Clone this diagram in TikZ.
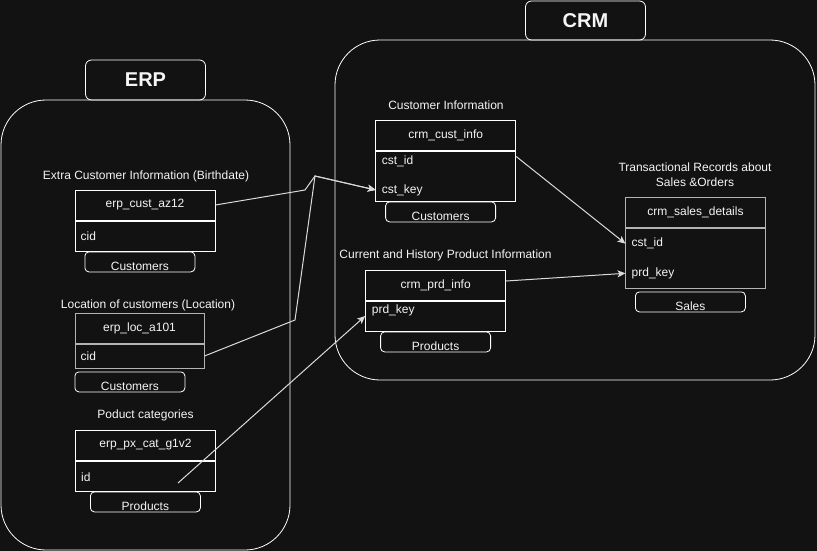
\documentclass[tikz,border=0pt]{standalone}
\usepackage{fontspec}
\setmainfont{Liberation Sans}
\usetikzlibrary{positioning,arrows.meta}
\definecolor{canvas}{HTML}{121212}
\definecolor{ink}{HTML}{F5F5F5}
\definecolor{dimline}{HTML}{B3B3B3}
\definecolor{wire}{HTML}{DADADA}

\begin{document}
\begin{tikzpicture}[x=1pt,y=-1pt,>={Stealth[length=8pt,width=7pt,inset=2pt]},
  every node/.style={text=ink,font=\fontsize{12}{15}\selectfont},
  group box/.style={draw=white,line width=0.8pt,rounded corners=45pt},
  group tag/.style={draw=white,line width=0.8pt,rounded corners=6pt,minimum width=120pt,
    minimum height=40pt,font=\bfseries\fontsize{20}{24}\selectfont},
  table head/.style={draw=white,line width=1pt,minimum width=140pt,minimum height=30pt,inner sep=0pt},
  table body/.style={draw=white,line width=1pt,minimum width=140pt,inner sep=0pt},
  field/.style={anchor=west,inner xsep=6pt,inner ysep=0pt},
  tab/.style={draw=white,line width=0.8pt,rounded corners=4pt,minimum width=110pt,
    inner ysep=0pt,text height=19pt,text depth=1pt},
  caption/.style={align=center},
  link/.style={draw=wire,line width=1pt}]
  \useasboundingbox (0,0) rectangle (817,551);
  \fill[canvas] (0,0) rectangle (817,551);

  % groups
  \node[group box,minimum width=289pt,minimum height=450pt] (erp) at (145.5,325) {};
  \node[group tag] (erptag) at (145.5,80) {ERP};
  \node[group box,minimum width=480pt,minimum height=340pt] (crm) at (575,210) {};
  \node[group tag,minimum height=39pt] (crmtag) at (585.5,20.5) {CRM};

  % ERP tables
  \node[caption] (custazcap) at (146,176) {Extra Customer Information (Birthdate)};
  \node[table head] (custaz) at (145,205) {erp\_cust\_az12};
  \node[table body,minimum height=30pt,below=0pt of custaz] (custazbody) {};
  \node[field] (custazcid) at (custazbody.west) {cid};
  \node[tab,below right=0pt and 10pt of custazbody.south west] (custaztab) {Customers};

  \node[caption] (loccap) at (148,305.5) {Location of customers (Location)};
  \node[table head,draw=dimline,minimum width=129pt] (loc) at (139.5,328) {erp\_loc\_a101};
  \node[table body,draw=dimline,minimum width=129pt,minimum height=24pt,below=0pt of loc] (locbody) {};
  \node[field] (loccid) at (locbody.west) {cid};
  \node[tab,below right=3pt and 0pt of locbody.south west] (loctab) {Customers};

  \node[caption] (pxcap) at (145.5,415.5) {Poduct categories};
  \node[table head] (pxcat) at (145.5,445) {erp\_px\_cat\_g1v2};
  \node[table body,minimum height=30pt,below=0pt of pxcat] (pxcatbody) {};
  \node[field] (pxid) at ([yshift=-1pt]pxcatbody.west) {id};
  \node[tab,below right=0pt and 15pt of pxcatbody.south west] (pxcattab) {Products};

  % CRM tables
  \node[caption] (custinfocap) at (446,105.5) {Customer Information};
  \node[table head] (custinfo) at (445.7,135) {crm\_cust\_info};
  \node[table body,minimum height=50pt,below=0pt of custinfo] (custinfobody) {};
  \node[field] (cstid) at (375.7,161.5) {cst\_id};
  \node[field] (cstkey) at (375.7,190) {cst\_key};
  \node[tab,below right=0pt and 10pt of custinfobody.south west] (custinfotab) {Customers};

  \node[caption] (prdinfocap) at (445.5,255.5) {Current and History Product Information};
  \node[table head] (prdinfo) at (435.7,285) {crm\_prd\_info};
  \node[table body,minimum height=30pt,below=0pt of prdinfo] (prdinfobody) {};
  \node[field] (prdkey) at (365.7,310.5) {prd\_key};
  \node[tab,below right=0pt and 15pt of prdinfobody.south west] (prdinfotab) {Products};

  \node[caption] (salescap) at (695,175) {Transactional Records about\\Sales \&Orders};
  \node[table head,draw=dimline] (sales) at (695.5,212) {crm\_sales\_details};
  \node[table body,draw=dimline,minimum height=60pt,below=0pt of sales] (salesbody) {};
  \node[field] (salescstid) at (625.5,243.7) {cst\_id};
  \node[field] (salesprdkey) at (625.5,273.3) {prd\_key};
  \node[tab,below right=3pt and 10pt of salesbody.south west] (salestab) {Sales};

  % links
  \coordinate (bendaz) at (305,190);
  \coordinate (join) at (315,176);
  \coordinate (bendloc) at (295,320);
  \coordinate (catout) at (178,483);
  \draw[link,->] (custaz.east) -- (bendaz) -- (join) -- (cstkey.west);
  \draw[link,->] (locbody.east) -- (bendloc) -- (join) -- (cstkey.west);
  \draw[link,->] (catout) -- (prdinfobody.west);
  \draw[link,->] ([yshift=5pt]cstid -| custinfobody.east) -- (salescstid.west);
  \draw[link,->] ([yshift=4pt]prdinfo.east) -- (salesprdkey.west);
\end{tikzpicture}
\end{document}
